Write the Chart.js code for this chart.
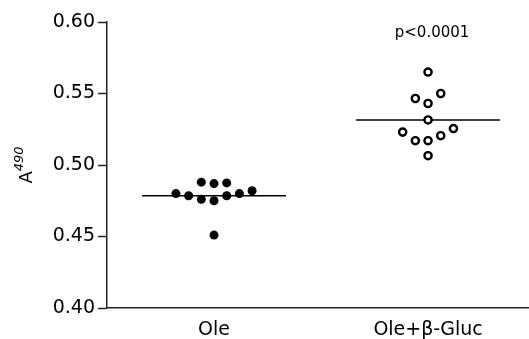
<!DOCTYPE html>
<html>
<head>
<meta charset="utf-8">
<script src="https://cdn.jsdelivr.net/npm/chart.js@4/dist/chart.umd.min.js"></script>
<style>
    html, body { margin: 0; padding: 0; background: #fff; overflow: hidden; }
    #wrap { position: relative; width: 529px; height: 339px; }
    canvas { display: block; }
</style>
</head>
<body>
<div id="wrap"><canvas id="absChart"></canvas></div>
<script>
// Groups and values
const categories = ['Ole', 'Ole+\u03B2-Gluc'];
const yTicks = [0.40, 0.45, 0.50, 0.55, 0.60];

// Ole (filled dots): column slot of each dot and its A490 value
const oleSlots = [-3, -2, -1, -1, 0, 0, 0, 1, 1, 2, 3];
const oleValues = [0.480, 0.4785, 0.488, 0.476, 0.487, 0.475, 0.451, 0.4875, 0.4785, 0.480, 0.482];

// Ole+beta-Gluc (open circles)
const glucSlots = [-2, -1, -1, 0, 0, 0, 0, 0, 1, 1, 2];
const glucValues = [0.523, 0.5465, 0.517, 0.565, 0.543, 0.5315, 0.517, 0.5065, 0.550, 0.5205, 0.5255];

const pLabel = 'p<0.0001';

const FONT = 'DejaVu Sans';
const SLOT_WIDTH = 0.0593;   // horizontal spread of the dots
const MEAN_HALF = 0.336;     // half length of mean line

function mean(arr) {
    return arr.reduce((a, b) => a + b, 0) / arr.length;
}

function toPoints(center, slots, values) {
    return values.map((v, i) => ({ x: center + slots[i] * SLOT_WIDTH, y: v }));
}

function meanLine(center, values) {
    const m = mean(values);
    return [{ x: center - MEAN_HALF, y: m }, { x: center + MEAN_HALF, y: m }];
}

// y axis title A^490 and the p value text
const extraText = {
    id: 'extraText',
    afterDraw(chart) {
        const ctx = chart.ctx;
        const area = chart.chartArea;
        ctx.save();
        ctx.fillStyle = '#000';

        // y title, rotated
        const cy = (area.top + area.bottom) / 2;
        ctx.translate(27, cy);
        ctx.rotate(-Math.PI / 2);
        ctx.font = '18px "' + FONT + '"';
        const wA = ctx.measureText('A').width;
        ctx.font = 'italic 13px "' + FONT + '"';
        const wS = ctx.measureText('490').width;
        const start = -(wA + wS) / 2;
        ctx.textBaseline = 'middle';
        ctx.textAlign = 'left';
        ctx.font = '18px "' + FONT + '"';
        ctx.fillText('A', start, 0);
        ctx.font = 'italic 13px "' + FONT + '"';
        ctx.fillText('490', start + wA, -7);
        ctx.restore();

        // p value above second group
        ctx.save();
        ctx.fillStyle = '#000';
        ctx.font = '15px "' + FONT + '"';
        ctx.textAlign = 'center';
        ctx.textBaseline = 'alphabetic';
        const px = chart.scales.x.getPixelForValue(2);
        ctx.fillText(pLabel, px + 4, 37);
        ctx.restore();
    }
};

function drawChart() {
    const ctx = document.getElementById('absChart').getContext('2d');

    new Chart(ctx, {
        type: 'scatter',
        data: {
            datasets: [
                {
                    label: categories[0],
                    data: toPoints(1, oleSlots, oleValues),
                    pointRadius: 4.5,
                    pointBackgroundColor: '#000',
                    pointBorderColor: '#000',
                    pointBorderWidth: 0
                },
                {
                    label: categories[1],
                    data: toPoints(2, glucSlots, glucValues),
                    pointRadius: 3.6,
                    pointBackgroundColor: '#fff',
                    pointBorderColor: '#000',
                    pointBorderWidth: 2.4
                },
                {
                    type: 'line',
                    label: 'mean Ole',
                    data: meanLine(1, oleValues),
                    borderColor: '#000',
                    borderWidth: 1.5,
                    pointRadius: 0,
                    fill: false
                },
                {
                    type: 'line',
                    label: 'mean Gluc',
                    data: meanLine(2, glucValues),
                    borderColor: '#000',
                    borderWidth: 1.5,
                    pointRadius: 0,
                    fill: false
                }
            ]
        },
        options: {
            responsive: true,
            maintainAspectRatio: false,
            animation: false,
            layout: {
                autoPadding: false,
                padding: { top: 22, right: 1, left: 0, bottom: 0 }
            },
            plugins: {
                legend: { display: false },
                tooltip: { enabled: false }
            },
            scales: {
                x: {
                    type: 'linear',
                    min: 0.5,
                    max: 2.467,
                    afterBuildTicks: (scale) => {
                        scale.ticks = categories.map((c, i) => ({ value: i + 1 }));
                    },
                    afterFit: (scale) => { scale.height = 31; },
                    ticks: {
                        callback: (value) => categories[value - 1],
                        color: '#000',
                        padding: 11,
                        maxRotation: 0,
                        autoSkip: false,
                        font: { family: FONT, size: 19 }
                    },
                    grid: { display: false, drawTicks: false },
                    border: { display: true, color: '#222', width: 1.5 }
                },
                y: {
                    min: 0.40,
                    max: 0.60,
                    afterBuildTicks: (scale) => {
                        scale.ticks = yTicks.map(v => ({ value: v }));
                    },
                    afterFit: (scale) => { scale.width = 107; },
                    ticks: {
                        callback: (value) => value.toFixed(2),
                        color: '#000',
                        padding: 3,
                        font: { family: FONT, size: 19 }
                    },
                    grid: {
                        drawOnChartArea: false,
                        drawTicks: true,
                        tickLength: 9,
                        tickWidth: 1.5,
                        tickColor: '#222'
                    },
                    border: { display: true, color: '#222', width: 1.5 }
                }
            }
        },
        plugins: [extraText]
    });
}

document.addEventListener('DOMContentLoaded', drawChart);
</script>
</body>
</html>
